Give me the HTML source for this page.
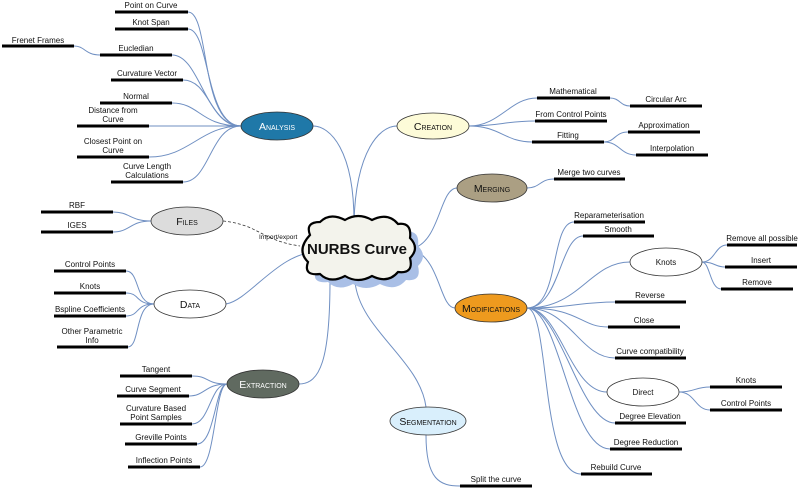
<!DOCTYPE html>
<html><head><meta charset="utf-8"><style>
html,body{margin:0;padding:0;background:#fff;}
svg{display:block;}
text{font-family:"Liberation Sans",sans-serif;font-size:8px;fill:#111;}
.b{font-size:10.5px;font-variant:small-caps;}
</style></head><body>
<svg width="800" height="488" viewBox="0 0 800 488" xmlns="http://www.w3.org/2000/svg">
<g fill="none" stroke="#6f8fc2" stroke-width="1">
<path d="M354 222 C354 150 330 126 313 126"/>
<path d="M354 222 C356 150 380 126 397 126"/>
<path d="M414 248 C440 240 440 188 457 188"/>
<path d="M414 250 C440 260 440 308 455 308"/>
<path d="M355 282 C360 330 420 360 426 407"/>
<path d="M320 252 C280 250 250 300 226 304"/>
<path d="M330 280 C330 360 320 384 299 384"/>
<path d="M241 126 C200 126 210 12 188 12"/>
<path d="M241 126 C205 126 210 29 188 29"/>
<path d="M241 126 C205 126 200 55 172 55"/>
<path d="M241 126 C210 126 210 80 183 80"/>
<path d="M241 126 C200 126 200 103 172 103"/>
<path d="M241 126 L149 126"/>
<path d="M241 126 C200 126 190 157 149 157"/>
<path d="M241 126 C210 126 210 182 183 182"/>
<path d="M100 55 C85 55 85 46 74 46"/>
<path d="M151 221 C130 221 130 212 113 212"/>
<path d="M151 221 C130 221 130 232 113 232"/>
<path d="M154 304 C135 304 140 271 126 271"/>
<path d="M154 304 C135 304 140 293 126 293"/>
<path d="M154 304 C135 304 140 316 126 316"/>
<path d="M154 304 C135 304 140 347 128 347"/>
<path d="M227 384 C205 384 210 376 192 376"/>
<path d="M227 384 C205 384 205 396 189 396"/>
<path d="M227 384 C210 384 210 424 192 424"/>
<path d="M227 384 C215 384 215 444 197 444"/>
<path d="M227 384 C215 384 215 467 200 467"/>
<path d="M469 126 C500 126 510 98 537 98"/>
<path d="M469 126 C500 126 505 121 535 121"/>
<path d="M469 126 C500 126 505 142 532 142"/>
<path d="M610 98 C620 98 620 106 630 106"/>
<path d="M604 142 C615 142 615 132 628 132"/>
<path d="M604 142 C620 142 620 155 636 155"/>
<path d="M527 188 C540 188 540 179 554 179"/>
<path d="M527 308 C560 308 550 222 574 222"/>
<path d="M527 308 C560 308 560 236 583 236"/>
<path d="M527 308 C580 308 590 262 630 262"/>
<path d="M527 308 C570 308 580 302 615 302"/>
<path d="M527 308 C580 308 580 327 608 327"/>
<path d="M527 308 C570 308 580 358 615 358"/>
<path d="M527 308 C560 308 570 392 607 392"/>
<path d="M527 308 C560 308 580 423 615 423"/>
<path d="M527 308 C560 308 570 449 610 449"/>
<path d="M527 308 C550 308 540 474 581 474"/>
<path d="M702 262 C715 262 715 245 727 245"/>
<path d="M702 262 C715 262 715 267 725 267"/>
<path d="M702 262 C710 262 710 289 721 289"/>
<path d="M679 392 C695 392 695 387 710 387"/>
<path d="M679 392 C695 392 695 410 710 410"/>
<path d="M426 435 C426 480 440 486 460 486"/>
</g>
<path d="M223 221 C260 225 260 240 300 246" fill="none" stroke="#333" stroke-width="0.8" stroke-dasharray="3,2"/>
<text x="259" y="239" style="font-size:6.5px">Import/export</text>

<g stroke="#000" stroke-width="3">
<line x1="115" y1="12" x2="188" y2="12"/><line x1="115" y1="29" x2="188" y2="29"/>
<line x1="100" y1="55" x2="172" y2="55"/><line x1="2" y1="46" x2="74" y2="46"/>
<line x1="111" y1="80" x2="183" y2="80"/><line x1="100" y1="103" x2="172" y2="103"/>
<line x1="77" y1="126" x2="149" y2="126"/><line x1="77" y1="157" x2="149" y2="157"/>
<line x1="111" y1="182" x2="183" y2="182"/>
<line x1="41" y1="212" x2="113" y2="212"/><line x1="41" y1="232" x2="113" y2="232"/>
<line x1="54" y1="271" x2="126" y2="271"/><line x1="54" y1="293" x2="126" y2="293"/>
<line x1="54" y1="316" x2="126" y2="316"/><line x1="57" y1="347" x2="128" y2="347"/>
<line x1="120" y1="376" x2="192" y2="376"/><line x1="117" y1="396" x2="189" y2="396"/>
<line x1="120" y1="424" x2="192" y2="424"/><line x1="125" y1="444" x2="197" y2="444"/>
<line x1="128" y1="467" x2="200" y2="467"/>
<line x1="537" y1="98" x2="610" y2="98"/><line x1="630" y1="106" x2="702" y2="106"/>
<line x1="535" y1="121" x2="607" y2="121"/><line x1="532" y1="142" x2="604" y2="142"/>
<line x1="628" y1="132" x2="700" y2="132"/><line x1="636" y1="155" x2="708" y2="155"/>
<line x1="554" y1="179" x2="625" y2="179"/>
<line x1="574" y1="222" x2="645" y2="222"/><line x1="583" y1="236" x2="654" y2="236"/>
<line x1="727" y1="245" x2="797" y2="245"/><line x1="725" y1="267" x2="797" y2="267"/>
<line x1="721" y1="289" x2="793" y2="289"/>
<line x1="615" y1="302" x2="686" y2="302"/><line x1="608" y1="327" x2="680" y2="327"/>
<line x1="615" y1="358" x2="686" y2="358"/>
<line x1="710" y1="387" x2="782" y2="387"/><line x1="710" y1="410" x2="782" y2="410"/>
<line x1="615" y1="423" x2="686" y2="423"/><line x1="610" y1="449" x2="682" y2="449"/>
<line x1="581" y1="474" x2="652" y2="474"/>
<line x1="460" y1="486" x2="532" y2="486"/>
</g>
<g text-anchor="middle">
<text x="151" y="8">Point on Curve</text><text x="151" y="25">Knot Span</text>
<text x="136" y="51">Eucledian</text><text x="38" y="43">Frenet Frames</text>
<text x="147" y="76">Curvature Vector</text><text x="136" y="99">Normal</text>
<text x="113" y="113">Distance from</text><text x="113" y="122">Curve</text>
<text x="113" y="144">Closest Point on</text><text x="113" y="153">Curve</text>
<text x="147" y="169">Curve Length</text><text x="147" y="178">Calculations</text>
<text x="77" y="208">RBF</text><text x="77" y="228">IGES</text>
<text x="90" y="267">Control Points</text><text x="90" y="289">Knots</text>
<text x="90" y="312">Bspline Coefficients</text>
<text x="92" y="334">Other Parametric</text><text x="92" y="343">Info</text>
<text x="156" y="372">Tangent</text><text x="153" y="392">Curve Segment</text>
<text x="156" y="411">Curvature Based</text><text x="156" y="420">Point Samples</text>
<text x="161" y="440">Greville Points</text><text x="164" y="463">Inflection Points</text>
<text x="573" y="94">Mathematical</text><text x="666" y="102">Circular Arc</text>
<text x="571" y="117">From Control Points</text><text x="568" y="138">Fitting</text>
<text x="664" y="128">Approximation</text><text x="672" y="151">Interpolation</text>
<text x="589" y="175">Merge two curves</text>
<text x="609" y="218">Reparameterisation</text><text x="618" y="232">Smooth</text>
<text x="762" y="241">Remove all possible</text><text x="761" y="263">Insert</text>
<text x="757" y="285">Remove</text>
<text x="650" y="298">Reverse</text><text x="644" y="323">Close</text>
<text x="650" y="354">Curve compatibility</text>
<text x="746" y="383">Knots</text><text x="746" y="406">Control Points</text>
<text x="650" y="419">Degree Elevation</text><text x="646" y="445">Degree Reduction</text>
<text x="616" y="470">Rebuild Curve</text><text x="496" y="482">Split the curve</text>
</g>

<g stroke="#333" stroke-width="0.8">
<ellipse cx="277" cy="126" rx="36" ry="14" fill="#1f78a8"/>
<ellipse cx="187" cy="221" rx="36" ry="14" fill="#dcdcdc"/>
<ellipse cx="190" cy="304" rx="36" ry="14" fill="#fff"/>
<ellipse cx="263" cy="384" rx="36" ry="14" fill="#606a60"/>
<ellipse cx="433" cy="126" rx="36" ry="13" fill="#fdfbd8"/>
<ellipse cx="492" cy="188" rx="35" ry="14" fill="#ab9f83"/>
<ellipse cx="491" cy="308" rx="36" ry="14" fill="#ee9a1e"/>
<ellipse cx="666" cy="262" rx="36" ry="14" fill="#fff"/>
<ellipse cx="643" cy="392" rx="36" ry="14" fill="#fff"/>
<ellipse cx="428" cy="421" rx="38" ry="14" fill="#d9effc"/>
</g>
<g text-anchor="middle">
<text class="b" x="277" y="130" style="fill:#fff">Analysis</text>
<text class="b" x="187" y="225">Files</text>
<text class="b" x="190" y="308">Data</text>
<text class="b" x="263" y="388" style="fill:#fff">Extraction</text>
<text class="b" x="433" y="130">Creation</text>
<text class="b" x="492" y="192">Merging</text>
<text class="b" x="491" y="312">Modifications</text>
<text x="666" y="265">Knots</text>
<text x="643" y="395">Direct</text>
<text class="b" x="428" y="425">Segmentation</text>
</g>

<g transform="translate(8,8)">
<path d="M310 235 Q305 222 320 222 Q330 212 345 220 Q358 212 372 220 Q388 212 398 224 Q412 222 410 238 Q420 248 410 258 Q414 274 398 272 Q388 284 372 276 Q358 284 345 276 Q330 284 320 274 Q303 276 308 262 Q296 250 310 235 Z" fill="#a9bfe6"/>
</g>
<path d="M310 235 Q305 222 320 222 Q330 212 345 220 Q358 212 372 220 Q388 212 398 224 Q412 222 410 238 Q420 248 410 258 Q414 274 398 272 Q388 284 372 276 Q358 284 345 276 Q330 284 320 274 Q303 276 308 262 Q296 250 310 235 Z" fill="#f3f3ec" stroke="#000" stroke-width="2.2"/>
<text x="357" y="254" text-anchor="middle" style="font-size:15px;font-weight:bold;">NURBS Curve</text>
</svg>
</body></html>
